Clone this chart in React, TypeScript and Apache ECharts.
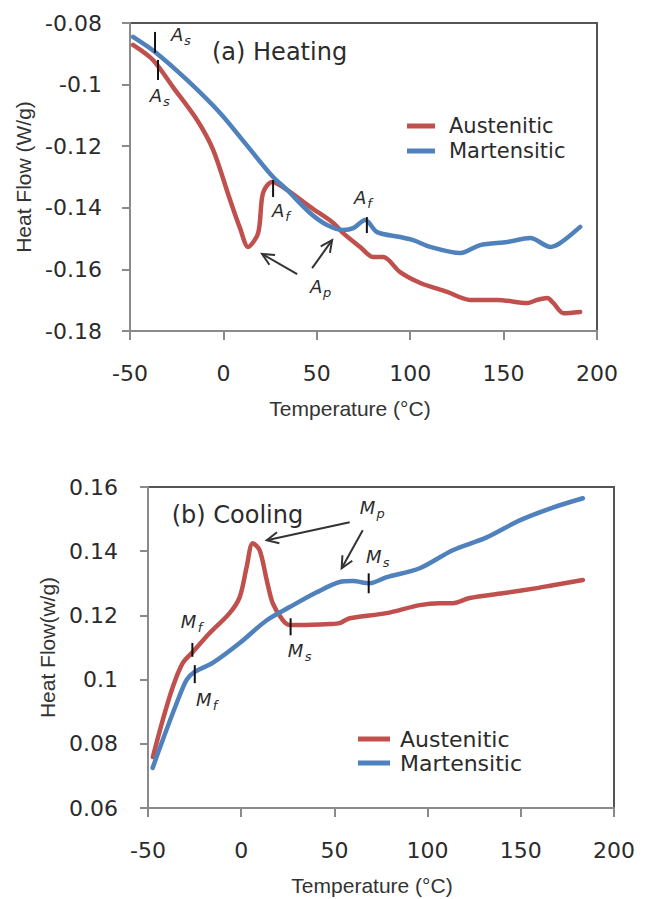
import React, { useEffect, useRef } from "react";
import * as echarts from "echarts";

// ---------- (a) Heating ----------
const heatAusT = [-48.4, -37.7, -27, -14.1, -5.5, 3.6, 8.9, 13.2, 18.6, 21.2, 26.1, 34.1, 46.4, 58.8, 64.1, 73.2, 80.2, 85.5, 94.6, 105.4, 119.8, 132.1, 146.6, 162.7, 168, 173.4, 176.6, 182, 191];
const heatAusV = [-0.0871, -0.092, -0.1008, -0.1115, -0.1212, -0.1375, -0.1466, -0.1527, -0.1482, -0.1352, -0.1316, -0.1342, -0.1397, -0.1449, -0.1482, -0.1527, -0.156, -0.156, -0.1609, -0.1644, -0.1673, -0.1699, -0.1699, -0.1709, -0.1699, -0.1693, -0.1709, -0.1742, -0.1738];
const heatMarT = [-48.4, -36.6, -19.5, -1.8, 11.6, 26.1, 34.1, 46.4, 55.5, 64.1, 69.5, 75.9, 82.3, 94.6, 101.6, 110.7, 126.8, 137.5, 152, 164.3, 175, 180.4, 191];
const heatMarV = [-0.0845, -0.0894, -0.0985, -0.1092, -0.119, -0.1297, -0.1342, -0.1417, -0.1456, -0.1472, -0.1466, -0.144, -0.1479, -0.1495, -0.1505, -0.1527, -0.1547, -0.1521, -0.1511, -0.1498, -0.1527, -0.1514, -0.1462];

// ---------- (b) Cooling ----------
const coolAusT = [-47.4, -42.1, -36.7, -31.4, -26, -16.9, -6.2, -0.8, 2.9, 6.2, 9.9, 13.7, 16.9, 22.3, 26, 31.4, 47.5, 52.8, 58.2, 78, 95.8, 106.5, 113.5, 122.6, 140.3, 158.6, 167.2, 183.3];
const coolAusV = [0.0759, 0.0874, 0.0977, 0.1051, 0.1086, 0.1145, 0.1207, 0.1257, 0.135, 0.1425, 0.1403, 0.131, 0.1238, 0.1185, 0.117, 0.117, 0.1173, 0.1176, 0.1191, 0.1207, 0.1232, 0.1238, 0.1238, 0.1254, 0.1269, 0.1285, 0.1294, 0.131];
const coolMarT = [-47.5, -42.1, -34.6, -29.3, -25, -15.3, -0.8, 13.7, 26, 40.5, 52.8, 59.8, 68.9, 78, 95.8, 113.5, 131.7, 149.4, 167.2, 183.3];
const coolMarV = [0.0725, 0.0812, 0.0927, 0.0999, 0.1024, 0.1052, 0.1114, 0.1185, 0.1226, 0.1272, 0.1304, 0.1307, 0.13, 0.1319, 0.1347, 0.1403, 0.1443, 0.1496, 0.1536, 0.1565];

const seriesNames = ["Austenitic", "Martensitic"];
const xTicks = { min: -50, max: 200, interval: 50 };
const heatY = { min: -0.18, max: -0.08, interval: 0.02 };
const coolY = { min: 0.06, max: 0.16, interval: 0.02 };

// annotation marks (transition temperatures) in data coordinates: [grid, T, v1, v2]
const transitionTicks: [number, number, number, number][] = [
  [0, -36.6, -0.0829, -0.0897],
  [0, -35, -0.092, -0.0985],
  [0, 26.6, -0.131, -0.1365],
  [0, 76.8, -0.143, -0.1482],
  [1, -26.2, 0.1114, 0.1071],
  [1, -24.9, 0.1045, 0.0989],
  [1, 26.5, 0.1191, 0.1138],
  [1, 68.4, 0.1331, 0.1269],
];
// labels: [grid, T, v, letter, subscript]
const transitionLabels: [number, number, number, string, string][] = [
  [0, -24.8, -0.0836, "A", "s"],
  [0, -36.1, -0.1037, "A", "s"],
  [0, 29.3, -0.141, "A", "f"],
  [0, 73.2, -0.1368, "A", "f"],
  [0, 49.6, -0.1654, "A", "p"],
  [1, -28.2, 0.1182, "M", "f"],
  [1, -20.1, 0.0937, "M", "f"],
  [1, 29.2, 0.1092, "M", "s"],
  [1, 71.1, 0.1384, "M", "s"],
  [1, 67.8, 0.1537, "M", "p"],
];
// arrows: [grid, fromT, fromV, toT, toV]
const arrows: [number, number, number, number, number][] = [
  [0, 39.5, -0.1615, 20.7, -0.155],
  [0, 47.5, -0.1596, 58.2, -0.1505],
  [1, 58.2, 0.149, 13.7, 0.1434],
  [1, 65.2, 0.1465, 53.9, 0.1347],
];
// panel titles: [grid, T, v, text]
const panelTitles: [number, number, number, string][] = [
  [0, -6.1, -0.0894, "(a) Heating"],
  [1, -37.3, 0.1512, "(b) Cooling"],
];

const RED = "#C0504D";
const BLUE = "#4F81BD";
const AXIS_GRAY = "#8a8a8a";
const TEXT = "#2b2b2b";
const FONT = "DejaVu Sans";

const zip = (a: number[], b: number[]) => a.map((t, i) => [t, b[i]]);

function xAxisCfg(gridIndex: number) {
  return {
    gridIndex,
    type: "value",
    ...xTicks,
    axisLine: { show: true, onZero: false, lineStyle: { color: AXIS_GRAY, width: 2 } },
    axisTick: { show: true, length: 9, lineStyle: { color: AXIS_GRAY, width: 2 } },
    axisLabel: { margin: 31, fontFamily: FONT, fontSize: 22, color: TEXT },
    splitLine: { show: false },
    name: "Temperature (°C)",
    nameLocation: "middle",
    nameGap: 67,
    nameTextStyle: {
      fontFamily: "Liberation Sans",
      fontSize: 21,
      color: "#333",
      padding: gridIndex === 0 ? [0, 27, 0, 0] : [0, 18, 0, 0],
    },
  };
}

function yAxisCfg(gridIndex: number, range: any, name: string, gap: number, margin: number) {
  return {
    gridIndex,
    type: "value",
    ...range,
    axisLine: { show: true, onZero: false, lineStyle: { color: AXIS_GRAY, width: 2 } },
    axisTick: { show: true, length: 8, lineStyle: { color: AXIS_GRAY, width: 2 } },
    axisLabel: { margin, fontFamily: FONT, fontSize: 22, color: TEXT },
    splitLine: { show: false },
    name,
    nameLocation: "middle",
    nameRotate: 90,
    nameGap: gap,
    nameTextStyle: { fontFamily: "Liberation Sans", fontSize: 21, color: "#333" },
  };
}

function lineSeries(name: string, color: string, data: number[][], idx: number) {
  return {
    type: "line",
    name,
    xAxisIndex: idx,
    yAxisIndex: idx,
    data,
    smooth: 0.3,
    showSymbol: false,
    symbol: "none",
    color,
    lineStyle: { color, width: 4.5, cap: "round", join: "round" },
    z: 3,
  };
}

export default function App() {
  const ref = useRef<HTMLDivElement>(null);
  useEffect(() => {
    const chart = echarts.init(ref.current!, null, { renderer: "svg" });
    const option: any = {
      animation: false,
      backgroundColor: "#ffffff",
      grid: [
        { left: 130, top: 23, width: 467, height: 308, show: true, borderColor: "#555555", borderWidth: 2, backgroundColor: "transparent" },
        { left: 148, top: 487, width: 466, height: 321, show: true, borderColor: "#555555", borderWidth: 2, backgroundColor: "transparent" },
      ],
      xAxis: [xAxisCfg(0), xAxisCfg(1)],
      yAxis: [
        yAxisCfg(0, heatY, "Heat Flow (W/g)", 94, 28),
        yAxisCfg(1, coolY, "Heat Flow(w/g)", 82, 30),
      ],
      legend: [
        {
          top: 109, left: 402, orient: "vertical", icon: "rect", itemWidth: 28, itemHeight: 5, itemGap: 1,
          selectedMode: false, data: seriesNames,
          textStyle: { fontFamily: FONT, fontSize: 21, lineHeight: 24, color: TEXT, padding: [0, 0, 0, 9] },
        },
        {
          top: 722, left: 353, orient: "vertical", icon: "rect", itemWidth: 32, itemHeight: 5, itemGap: 0,
          selectedMode: false, data: seriesNames,
          textStyle: { fontFamily: FONT, fontSize: 22, lineHeight: 24, color: TEXT, padding: [0, 0, 0, 5] },
        },
      ],
      series: [
        lineSeries("Austenitic", RED, zip(heatAusT, heatAusV), 0),
        lineSeries("Martensitic", BLUE, zip(heatMarT, heatMarV), 0),
        lineSeries("Austenitic", RED, zip(coolAusT, coolAusV), 1),
        lineSeries("Martensitic", BLUE, zip(coolMarT, coolMarV), 1),
      ],
    };
    chart.setOption(option);

    const px = (g: number, t: number, v: number) => chart.convertToPixel({ gridIndex: g }, [t, v]) as number[];
    const graphics: any[] = [];
    transitionTicks.forEach(([g, t, v1, v2]) => {
      const a = px(g, t, v1);
      const b = px(g, t, v2);
      graphics.push({ type: "line", z: 10, shape: { x1: a[0], y1: a[1], x2: b[0], y2: b[1] }, style: { stroke: "#111", lineWidth: 2 } });
    });
    transitionLabels.forEach(([g, t, v, letter, sub]) => {
      const p = px(g, t, v);
      const half = letter === "M" ? 8 : 6;
      graphics.push({ type: "text", z: 10, x: p[0], y: p[1], style: { text: letter, font: `italic 18px "${FONT}"`, fill: TEXT, align: "center", verticalAlign: "middle" } });
      graphics.push({ type: "text", z: 10, x: p[0] + half + 1, y: p[1] + 6, style: { text: sub, font: `italic 13px "${FONT}"`, fill: TEXT, align: "left", verticalAlign: "middle" } });
    });
    arrows.forEach(([g, t1, v1, t2, v2]) => {
      const a = px(g, t1, v1);
      const b = px(g, t2, v2);
      const dx = b[0] - a[0];
      const dy = b[1] - a[1];
      const len = Math.hypot(dx, dy);
      const ux = dx / len;
      const uy = dy / len;
      const L = 13;
      const th = 0.45;
      const w = (s: number) => [
        b[0] - L * (ux * Math.cos(s * th) - uy * Math.sin(s * th)),
        b[1] - L * (ux * Math.sin(s * th) + uy * Math.cos(s * th)),
      ];
      graphics.push({ type: "line", z: 10, shape: { x1: a[0], y1: a[1], x2: b[0], y2: b[1] }, style: { stroke: "#333", lineWidth: 2 } });
      graphics.push({ type: "polyline", z: 10, shape: { points: [w(1), b, w(-1)] }, style: { stroke: "#333", lineWidth: 2, fill: "none" } });
    });
    panelTitles.forEach(([g, t, v, text]) => {
      const p = px(g, t, v);
      graphics.push({ type: "text", z: 10, x: p[0], y: p[1], style: { text, font: `24px "${FONT}"`, fill: TEXT, align: "left", verticalAlign: "middle" } });
    });
    chart.setOption({ graphic: graphics });

    return () => chart.dispose();
  }, []);
  return <div ref={ref} style={{ position: "absolute", left: 0, top: 0, width: 649, height: 899, background: "#fff" }} />;
}
